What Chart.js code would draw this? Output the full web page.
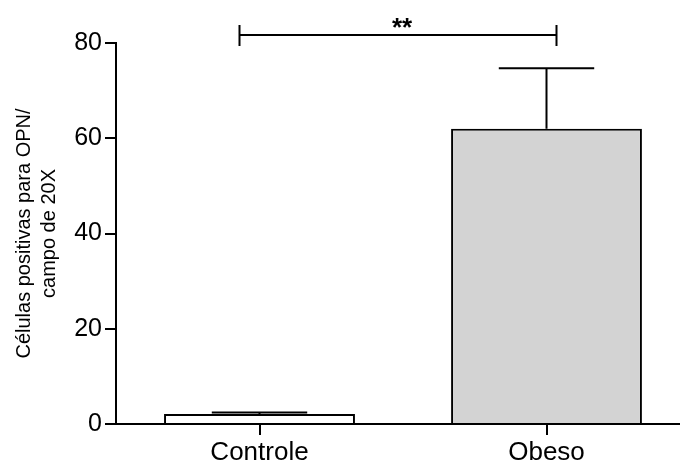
<!DOCTYPE html>
<html>
<head>
    <title>OPN</title>
    <script src="https://cdn.jsdelivr.net/npm/chart.js@4.4.1/dist/chart.umd.min.js"></script>
    <style>
        html, body {
            margin: 0;
            padding: 0;
            background: #fff;
            overflow: hidden;
        }
        .chart-box {
            width: 700px;
            height: 466px;
        }
    </style>
</head>
<body>
    <div class="chart-box"><canvas id="chart"></canvas></div>

    <script>
        // data
        const categories = ['Controle', 'Obeso'];
        const means = [2.1, 62.0];
        const errUpper = [2.4, 74.7];
        const barColors = ['#ffffff', '#d3d3d3'];
        const yTitle = ['Células positivas para OPN/', 'campo de 20X'];
        const sigLabel = '**';
        const sigLevel = 81.7;

        const fontFamily = '"Liberation Sans", Arial, sans-serif';

        // error bars (upper only, Prism style) + significance bracket
        const extras = {
            id: 'extras',
            afterDatasetsDraw(chart) {
                const ctx = chart.ctx;
                const x = chart.scales.x;
                const y = chart.scales.y;
                const meta = chart.getDatasetMeta(0);
                ctx.save();
                ctx.strokeStyle = '#000';
                ctx.lineWidth = 2;
                meta.data.forEach((bar, i) => {
                    const cx = bar.x;
                    const top = y.getPixelForValue(errUpper[i]);
                    const half = bar.width / 4;
                    ctx.beginPath();
                    ctx.moveTo(cx, bar.y);
                    ctx.lineTo(cx, top);
                    ctx.moveTo(cx - half, top);
                    ctx.lineTo(cx + half, top);
                    ctx.stroke();
                });

                const yb = y.getPixelForValue(sigLevel);
                const x1 = x.getPixelForValue(0) - 20;
                const x2 = x.getPixelForValue(1) + 10;
                ctx.beginPath();
                ctx.moveTo(x1, yb);
                ctx.lineTo(x2, yb);
                ctx.moveTo(x1, yb - 10);
                ctx.lineTo(x1, yb + 11);
                ctx.moveTo(x2, yb - 10);
                ctx.lineTo(x2, yb + 11);
                ctx.stroke();

                ctx.fillStyle = '#000';
                ctx.font = 'bold 26px ' + fontFamily;
                ctx.textAlign = 'center';
                ctx.textBaseline = 'alphabetic';
                ctx.fillText(sigLabel, (x1 + x2) / 2 + 4, yb + 1);
                ctx.restore();
            }
        };

        new Chart(document.getElementById('chart'), {
            type: 'bar',
            data: {
                labels: categories,
                datasets: [{
                    data: means,
                    backgroundColor: barColors,
                    borderColor: '#000',
                    borderWidth: 2,
                    borderSkipped: 'bottom',
                    categoryPercentage: 1,
                    barPercentage: 0.665
                }]
            },
            options: {
                responsive: true,
                maintainAspectRatio: false,
                animation: false,
                layout: { padding: { left: 0, right: 10, top: 43, bottom: 0 } },
                plugins: {
                    legend: { display: false },
                    tooltip: { enabled: false }
                },
                scales: {
                    x: {
                        offset: true,
                        grid: {
                            offset: false,
                            drawOnChartArea: false,
                            color: '#000',
                            lineWidth: 2,
                            tickLength: 11
                        },
                        border: { display: true, color: '#000', width: 2 },
                        ticks: {
                            color: '#000',
                            padding: 2,
                            maxRotation: 0,
                            font: { family: fontFamily, size: 26 }
                        },
                        afterFit(scale) { scale.height = 42; }
                    },
                    y: {
                        min: 0,
                        max: 80,
                        ticks: {
                            stepSize: 20,
                            color: '#000',
                            padding: 3,
                            font: { family: fontFamily, size: 25 }
                        },
                        grid: {
                            drawOnChartArea: false,
                            color: '#000',
                            lineWidth: 2,
                            tickLength: 11
                        },
                        border: { display: true, color: '#000', width: 2 },
                        title: {
                            display: true,
                            text: yTitle,
                            color: '#000',
                            padding: { top: 12, bottom: 0 },
                            font: { family: fontFamily, size: 20, lineHeight: 1.25 }
                        },
                        afterFit(scale) { scale.width = 116; }
                    }
                }
            },
            plugins: [extras]
        });
    </script>
</body>
</html>
